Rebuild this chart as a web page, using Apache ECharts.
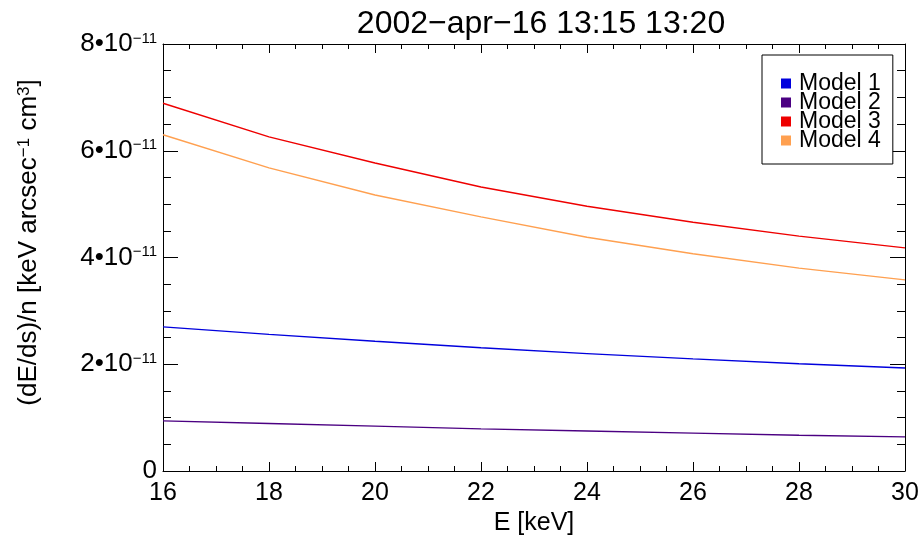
<!DOCTYPE html>
<html>
<head>
    <meta charset="UTF-8">
    <title>dE/ds</title>
    <script type="text/javascript" src="https://cdn.jsdelivr.net/npm/echarts@6/dist/echarts.min.js"></script>
</head>
<body style="margin:0">
    <div id="main" style="width:922px; height:545px;"></div>
    <script>
        // energies (keV) and the four model curves
        var energy = [16, 18, 20, 22, 24, 26, 28, 30];
        var model1 = [2.70e-11, 2.56e-11, 2.43e-11, 2.31e-11, 2.20e-11, 2.10e-11, 2.01e-11, 1.93e-11];
        var model2 = [0.94e-11, 0.89e-11, 0.84e-11, 0.79e-11, 0.75e-11, 0.71e-11, 0.67e-11, 0.64e-11];
        var model3 = [6.89e-11, 6.26e-11, 5.77e-11, 5.32e-11, 4.96e-11, 4.66e-11, 4.40e-11, 4.18e-11];
        var model4 = [6.30e-11, 5.68e-11, 5.17e-11, 4.76e-11, 4.38e-11, 4.07e-11, 3.80e-11, 3.58e-11];
        var names = ['Model 1', 'Model 2', 'Model 3', 'Model 4'];
        var colors = ['#0000dd', '#4b0082', '#ee0000', '#ffa050'];

        function pairs(ys) {
            return energy.map(function (e, i) { return [e, ys[i]]; });
        }

        var chart = echarts.init(document.getElementById('main'), null, {renderer: 'canvas'});
        var font = 'Liberation Sans';

        var tickStyle = {
            axisLine: {show: true, onZero: false, lineStyle: {color: '#000', width: 1}},
            splitLine: {show: false}
        };

        var option = {
            backgroundColor: '#fff',
            animation: false,
            textStyle: {fontFamily: font, color: '#000'},
            title: {
                text: '2002\u2212apr\u221216 13:15 13:20',
                left: 536, top: 3, textAlign: 'center',
                textStyle: {fontFamily: font, fontSize: 32, fontWeight: 'normal', color: '#000'}
            },
            grid: {left: 163, right: 17, top: 44, bottom: 74},
            legend: {
                data: names.map(function (n, i) { return {name: n, itemStyle: {color: colors[i]}}; }),
                orient: 'vertical',
                left: 762, top: 55,
                icon: 'rect', itemWidth: 10, itemHeight: 10, itemGap: -4,
                padding: [17, 12, 12, 19],
                borderColor: '#000', borderWidth: 1,
                backgroundColor: '#fff',
                textStyle: {fontFamily: font, fontSize: 23, color: '#000', padding: [0, 0, 0, 3]}
            },
            xAxis: [
                Object.assign({
                    type: 'value', min: 16, max: 30, interval: 2,
                    name: 'E [keV]', nameLocation: 'middle', nameGap: 39,
                    nameTextStyle: {fontFamily: font, fontSize: 25, color: '#000'},
                    axisTick: {inside: true, length: 9, lineStyle: {color: '#000'}},
                    minorTick: {show: true, splitNumber: 4, length: 5, lineStyle: {color: '#000'}},
                    axisLabel: {fontFamily: font, fontSize: 25, color: '#000', margin: 10}
                }, tickStyle),
                Object.assign({
                    type: 'value', min: 16, max: 30, interval: 2, position: 'top',
                    axisTick: {inside: true, length: 9, lineStyle: {color: '#000'}},
                    minorTick: {show: true, splitNumber: 4, length: 5, lineStyle: {color: '#000'}},
                    axisLabel: {show: false}
                }, tickStyle)
            ],
            yAxis: [
                Object.assign({
                    type: 'value', min: 0, max: 8e-11, interval: 2e-11,
                    name: '{n|(dE/ds)/n [keV arcsec}{s|\u22121}{n| cm}{s|3}{n|]}',
                    nameLocation: 'middle', nameGap: 121, nameRotate: 90,
                    nameTextStyle: {
                        padding: [0, 0, 0, 30],
                        rich: {
                            n: {fontFamily: font, fontSize: 26, color: '#000'},
                            s: {fontFamily: font, fontSize: 17, color: '#000', verticalAlign: 'top', lineHeight: 26, padding: [0, 0, 8, 0]}
                        }
                    },
                    axisTick: {inside: true, length: 15, lineStyle: {color: '#000'}},
                    minorTick: {show: true, splitNumber: 4, length: 8, lineStyle: {color: '#000'}},
                    axisLabel: {
                        margin: 6,
                        formatter: function (v) {
                            var k = Math.round(v / 1e-11);
                            if (k === 0) return '{n|0}';
                            return '{n|' + k + '\u202210}{s|\u221211}';
                        },
                        rich: {
                            n: {fontFamily: font, fontSize: 26, color: '#000'},
                            s: {fontFamily: font, fontSize: 15, color: '#000', verticalAlign: 'top', lineHeight: 26, padding: [0, 0, 10, 0]}
                        }
                    }
                }, tickStyle),
                Object.assign({
                    type: 'value', min: 0, max: 8e-11, interval: 2e-11, position: 'right',
                    axisTick: {inside: true, length: 15, lineStyle: {color: '#000'}},
                    minorTick: {show: true, splitNumber: 4, length: 8, lineStyle: {color: '#000'}},
                    axisLabel: {show: false}
                }, tickStyle)
            ],
            series: [model1, model2, model3, model4].map(function (ys, i) {
                return {
                    name: names[i], type: 'line', data: pairs(ys),
                    showSymbol: false, symbol: 'none',
                    lineStyle: {color: colors[i], width: 1.4},
                    itemStyle: {color: colors[i]}
                };
            })
        };
        chart.setOption(option);
    </script>
</body>
</html>
